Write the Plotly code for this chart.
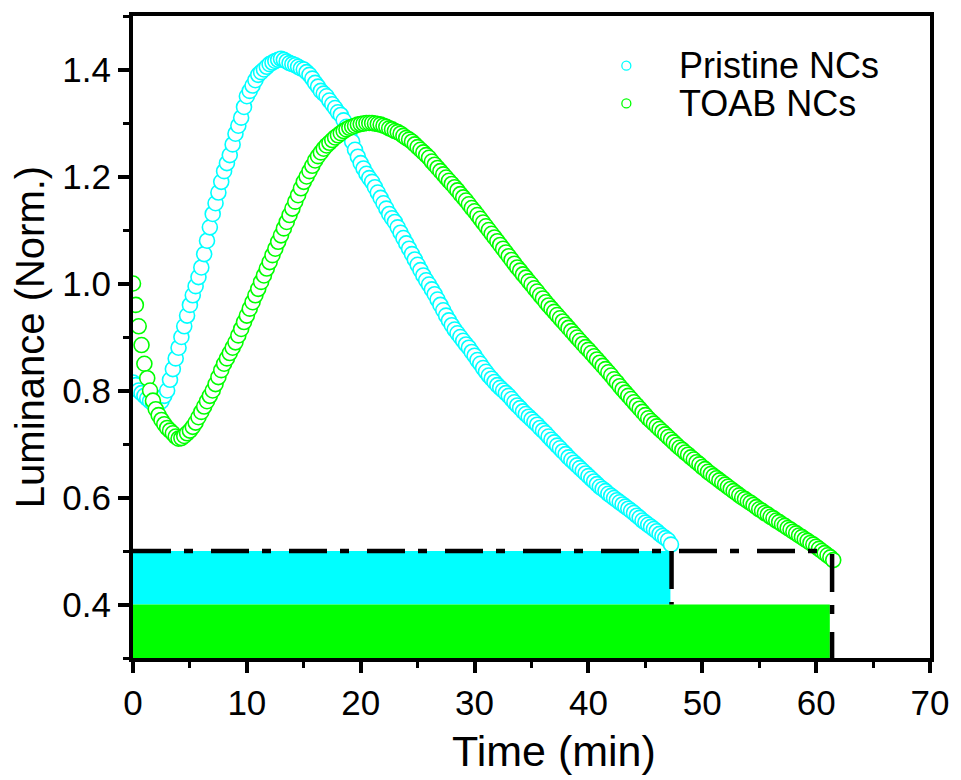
import plotly.graph_objects as go

# ---------------- data ----------------
pristine_t = [
    0.00, 0.25, 0.50, 0.75, 1.00, 1.25, 1.50, 1.75, 2.00, 2.25, 2.50, 2.75, 3.00, 3.25, 3.50, 3.75,
    4.00, 4.25, 4.50, 4.75, 5.00, 5.25, 5.50, 5.75, 6.00, 6.25, 6.50, 6.75, 7.00, 7.25, 7.50, 7.75,
    8.00, 8.25, 8.50, 8.75, 9.00, 9.25, 9.50, 9.75, 10.00, 10.25, 10.50, 10.75, 11.00, 11.25, 11.50, 11.75,
    12.00, 12.25, 12.50, 12.75, 13.00, 13.25, 13.50, 13.75, 14.00, 14.25, 14.50, 14.75, 15.00, 15.25, 15.50, 15.75,
    16.00, 16.25, 16.50, 16.75, 17.00, 17.25, 17.50, 17.75, 18.00, 18.25, 18.50, 18.75, 19.00, 19.25, 19.50, 19.75,
    20.00, 20.25, 20.50, 20.75, 21.00, 21.25, 21.50, 21.75, 22.00, 22.25, 22.50, 22.75, 23.00, 23.25, 23.50, 23.75,
    24.00, 24.25, 24.50, 24.75, 25.00, 25.25, 25.50, 25.75, 26.00, 26.25, 26.50, 26.75, 27.00, 27.25, 27.50, 27.75,
    28.00, 28.25, 28.50, 28.75, 29.00, 29.25, 29.50, 29.75, 30.00, 30.25, 30.50, 30.75, 31.00, 31.25, 31.50, 31.75,
    32.00, 32.25, 32.50, 32.75, 33.00, 33.25, 33.50, 33.75, 34.00, 34.25, 34.50, 34.75, 35.00, 35.25, 35.50, 35.75,
    36.00, 36.25, 36.50, 36.75, 37.00, 37.25, 37.50, 37.75, 38.00, 38.25, 38.50, 38.75, 39.00, 39.25, 39.50, 39.75,
    40.00, 40.25, 40.50, 40.75, 41.00, 41.25, 41.50, 41.75, 42.00, 42.25, 42.50, 42.75, 43.00, 43.25, 43.50, 43.75,
    44.00, 44.25, 44.50, 44.75, 45.00, 45.25, 45.50, 45.75, 46.00, 46.25, 46.50, 46.75, 47.00, 47.25]
pristine_lum = [
    0.815, 0.810, 0.800, 0.795, 0.790, 0.785, 0.780, 0.776, 0.774, 0.775, 0.780, 0.790, 0.800, 0.820, 0.840, 0.860,
    0.880, 0.900, 0.920, 0.940, 0.960, 0.978, 0.995, 1.012, 1.030, 1.055, 1.080, 1.105, 1.130, 1.150, 1.170, 1.190,
    1.210, 1.225, 1.240, 1.260, 1.280, 1.295, 1.310, 1.330, 1.350, 1.360, 1.370, 1.380, 1.390, 1.395, 1.400, 1.405,
    1.410, 1.413, 1.416, 1.418, 1.420, 1.418, 1.415, 1.412, 1.410, 1.408, 1.405, 1.402, 1.400, 1.395, 1.390, 1.383,
    1.375, 1.368, 1.360, 1.355, 1.350, 1.342, 1.335, 1.328, 1.320, 1.315, 1.305, 1.293, 1.280, 1.265, 1.250, 1.237,
    1.225, 1.215, 1.205, 1.197, 1.190, 1.180, 1.170, 1.160, 1.150, 1.140, 1.130, 1.122, 1.115, 1.105, 1.095, 1.085,
    1.075, 1.065, 1.055, 1.045, 1.035, 1.025, 1.015, 1.006, 0.998, 0.989, 0.980, 0.970, 0.960, 0.950, 0.940, 0.931,
    0.922, 0.914, 0.907, 0.900, 0.893, 0.886, 0.880, 0.872, 0.865, 0.857, 0.850, 0.842, 0.835, 0.828, 0.822, 0.816,
    0.810, 0.805, 0.800, 0.795, 0.790, 0.784, 0.778, 0.772, 0.767, 0.761, 0.756, 0.751, 0.746, 0.741, 0.736, 0.730,
    0.725, 0.720, 0.714, 0.708, 0.703, 0.697, 0.692, 0.686, 0.681, 0.675, 0.670, 0.665, 0.660, 0.655, 0.650, 0.645,
    0.640, 0.635, 0.630, 0.625, 0.620, 0.616, 0.612, 0.607, 0.603, 0.599, 0.595, 0.591, 0.587, 0.583, 0.579, 0.575,
    0.571, 0.566, 0.562, 0.557, 0.553, 0.549, 0.545, 0.541, 0.537, 0.532, 0.528, 0.524, 0.520, 0.512]

toab_t = [
    0.00, 0.25, 0.50, 0.75, 1.00, 1.25, 1.50, 1.75, 2.00, 2.25, 2.50, 2.75, 3.00, 3.25, 3.50, 3.75,
    4.00, 4.25, 4.50, 4.75, 5.00, 5.25, 5.50, 5.75, 6.00, 6.25, 6.50, 6.75, 7.00, 7.25, 7.50, 7.75,
    8.00, 8.25, 8.50, 8.75, 9.00, 9.25, 9.50, 9.75, 10.00, 10.25, 10.50, 10.75, 11.00, 11.25, 11.50, 11.75,
    12.00, 12.25, 12.50, 12.75, 13.00, 13.25, 13.50, 13.75, 14.00, 14.25, 14.50, 14.75, 15.00, 15.25, 15.50, 15.75,
    16.00, 16.25, 16.50, 16.75, 17.00, 17.25, 17.50, 17.75, 18.00, 18.25, 18.50, 18.75, 19.00, 19.25, 19.50, 19.75,
    20.00, 20.25, 20.50, 20.75, 21.00, 21.25, 21.50, 21.75, 22.00, 22.25, 22.50, 22.75, 23.00, 23.25, 23.50, 23.75,
    24.00, 24.25, 24.50, 24.75, 25.00, 25.25, 25.50, 25.75, 26.00, 26.25, 26.50, 26.75, 27.00, 27.25, 27.50, 27.75,
    28.00, 28.25, 28.50, 28.75, 29.00, 29.25, 29.50, 29.75, 30.00, 30.25, 30.50, 30.75, 31.00, 31.25, 31.50, 31.75,
    32.00, 32.25, 32.50, 32.75, 33.00, 33.25, 33.50, 33.75, 34.00, 34.25, 34.50, 34.75, 35.00, 35.25, 35.50, 35.75,
    36.00, 36.25, 36.50, 36.75, 37.00, 37.25, 37.50, 37.75, 38.00, 38.25, 38.50, 38.75, 39.00, 39.25, 39.50, 39.75,
    40.00, 40.25, 40.50, 40.75, 41.00, 41.25, 41.50, 41.75, 42.00, 42.25, 42.50, 42.75, 43.00, 43.25, 43.50, 43.75,
    44.00, 44.25, 44.50, 44.75, 45.00, 45.25, 45.50, 45.75, 46.00, 46.25, 46.50, 46.75, 47.00, 47.25, 47.50, 47.75,
    48.00, 48.25, 48.50, 48.75, 49.00, 49.25, 49.50, 49.75, 50.00, 50.25, 50.50, 50.75, 51.00, 51.25, 51.50, 51.75,
    52.00, 52.25, 52.50, 52.75, 53.00, 53.25, 53.50, 53.75, 54.00, 54.25, 54.50, 54.75, 55.00, 55.25, 55.50, 55.75,
    56.00, 56.25, 56.50, 56.75, 57.00, 57.25, 57.50, 57.75, 58.00, 58.25, 58.50, 58.75, 59.00, 59.25, 59.50, 59.75,
    60.00, 60.25, 60.50, 60.75, 61.00, 61.25, 61.50]
toab_lum = [
    1.000, 0.960, 0.920, 0.885, 0.850, 0.823, 0.800, 0.781, 0.765, 0.754, 0.745, 0.737, 0.730, 0.725, 0.720, 0.714,
    0.710, 0.711, 0.715, 0.720, 0.725, 0.732, 0.740, 0.750, 0.760, 0.770, 0.780, 0.790, 0.800, 0.812, 0.825, 0.838,
    0.850, 0.860, 0.870, 0.880, 0.890, 0.903, 0.915, 0.928, 0.940, 0.953, 0.965, 0.978, 0.990, 1.003, 1.015, 1.028,
    1.040, 1.053, 1.065, 1.078, 1.090, 1.103, 1.115, 1.128, 1.140, 1.153, 1.165, 1.178, 1.190, 1.200, 1.210, 1.220,
    1.230, 1.238, 1.245, 1.252, 1.258, 1.263, 1.268, 1.273, 1.277, 1.281, 1.285, 1.288, 1.291, 1.293, 1.295, 1.297,
    1.298, 1.299, 1.300, 1.300, 1.300, 1.299, 1.298, 1.297, 1.295, 1.293, 1.290, 1.288, 1.285, 1.283, 1.280, 1.276,
    1.272, 1.269, 1.265, 1.260, 1.255, 1.250, 1.245, 1.240, 1.235, 1.228, 1.222, 1.216, 1.210, 1.204, 1.198, 1.192,
    1.186, 1.180, 1.174, 1.167, 1.161, 1.155, 1.148, 1.141, 1.135, 1.128, 1.121, 1.114, 1.107, 1.100, 1.093, 1.086,
    1.079, 1.072, 1.065, 1.058, 1.051, 1.044, 1.037, 1.030, 1.024, 1.017, 1.011, 1.004, 0.998, 0.991, 0.985, 0.978,
    0.972, 0.965, 0.959, 0.953, 0.947, 0.941, 0.935, 0.929, 0.923, 0.917, 0.911, 0.905, 0.899, 0.893, 0.887, 0.881,
    0.876, 0.870, 0.864, 0.858, 0.852, 0.846, 0.840, 0.834, 0.828, 0.821, 0.815, 0.808, 0.802, 0.796, 0.790, 0.784,
    0.778, 0.772, 0.766, 0.760, 0.754, 0.748, 0.743, 0.738, 0.733, 0.728, 0.723, 0.718, 0.713, 0.708, 0.703, 0.698,
    0.693, 0.689, 0.684, 0.680, 0.675, 0.671, 0.666, 0.662, 0.657, 0.653, 0.648, 0.644, 0.640, 0.636, 0.632, 0.628,
    0.624, 0.620, 0.616, 0.612, 0.608, 0.604, 0.600, 0.597, 0.593, 0.590, 0.586, 0.582, 0.578, 0.575, 0.571, 0.568,
    0.564, 0.561, 0.557, 0.554, 0.550, 0.547, 0.543, 0.540, 0.536, 0.533, 0.529, 0.526, 0.522, 0.519, 0.515, 0.512,
    0.508, 0.504, 0.500, 0.496, 0.492, 0.488, 0.483]

series_names = ["Pristine NCs", "TOAB NCs"]
series_colors = ["#00FFFF", "#00FF00"]

# duration bars: (end time, centre level, thickness)
bar_end = [47.2, 61.2]
bar_level = [0.45, 0.35]
bar_thick = [0.1, 0.1]

# dash-dot outline of the bars
outline1_x = [0.0, 61.4, 61.4]
outline1_y = [0.5, 0.5, 0.3]
outline2_x = [47.3, 47.3]
outline2_y = [0.5, 0.4]

x_ticks = [0, 10, 20, 30, 40, 50, 60, 70]
y_ticks = [0.4, 0.6, 0.8, 1.0, 1.2, 1.4]

FONT = "Liberation Sans, Arial, sans-serif"

fig = go.Figure()

# bars
for i in range(2):
    fig.add_trace(go.Bar(
        x=[bar_end[i]], y=[bar_level[i]], width=[bar_thick[i]], orientation="h",
        marker=dict(color=series_colors[i], line=dict(width=0)),
        showlegend=False, hoverinfo="skip"))

# scatter series
for xs, ys, name, col in [(pristine_t, pristine_lum, series_names[0], series_colors[0]),
                          (toab_t, toab_lum, series_names[1], series_colors[1])]:
    fig.add_trace(go.Scatter(
        x=xs, y=ys, mode="markers", name=name, showlegend=False,
        marker=dict(symbol="circle", size=15, color="white",
                    line=dict(color=col, width=1.6))))

# dash-dot outlines
dashpat = "38px,13px,9px,18px"
fig.add_trace(go.Scatter(x=outline1_x, y=outline1_y, mode="lines", showlegend=False,
                         line=dict(color="black", width=4.5, dash=dashpat), hoverinfo="skip"))
fig.add_trace(go.Scatter(x=outline2_x, y=outline2_y, mode="lines", showlegend=False,
                         line=dict(color="black", width=4.5, dash=dashpat), hoverinfo="skip"))

# legend drawn as small open circles + text (paper coordinates)
legend_x_sym = 0.619
legend_x_txt = 0.683
legend_y = [0.9226, 0.8638]
for name, col, ly in zip(series_names, series_colors, legend_y):
    fig.add_shape(type="circle", xref="paper", yref="paper",
                  xsizemode="pixel", ysizemode="pixel",
                  xanchor=legend_x_sym, yanchor=ly, x0=-4.5, x1=4.5, y0=-4.5, y1=4.5,
                  line=dict(color=col, width=1.3), fillcolor="rgba(0,0,0,0)")
    fig.add_annotation(x=legend_x_txt, y=ly, xref="paper", yref="paper",
                       xanchor="left", yanchor="middle", showarrow=False, text=name,
                       font=dict(family=FONT, size=36, color="black"))

# x-axis title (slightly right of centre, as in the reference)
fig.add_annotation(x=0.528, y=-0.1455, xref="paper", yref="paper",
                   xanchor="center", yanchor="middle", showarrow=False,
                   text="Time (min)", font=dict(family=FONT, size=43, color="black"))

axis_common = dict(
    showline=True, linecolor="black", linewidth=4, mirror=True,
    ticks="outside", ticklen=11, tickwidth=4, tickcolor="black",
    showgrid=False, zeroline=False,
    tickfont=dict(family=FONT, size=35, color="black"),
    minor=dict(ticks="outside", ticklen=6, tickwidth=3, tickcolor="black", showgrid=False),
)

fig.update_layout(
    width=961, height=780,
    margin=dict(l=133, r=25, t=12, b=122),
    paper_bgcolor="white", plot_bgcolor="white",
    barmode="overlay",
    showlegend=False,
    font=dict(family=FONT, color="black"),
    xaxis=dict(range=[0, 70], tickvals=x_ticks, ticktext=[str(v) for v in x_ticks],
               **axis_common),
    yaxis=dict(range=[0.3, 1.5], tickvals=y_ticks, ticktext=[f"{v:.1f}" for v in y_ticks],
               title=dict(text="Luminance (Norm.)", font=dict(family=FONT, size=40), standoff=6),
               **axis_common),
)
fig.update_xaxes(minor_dtick=5, minor_tick0=0)
fig.update_yaxes(minor_dtick=0.1, minor_tick0=0.3)

fig.write_html("out.html")
